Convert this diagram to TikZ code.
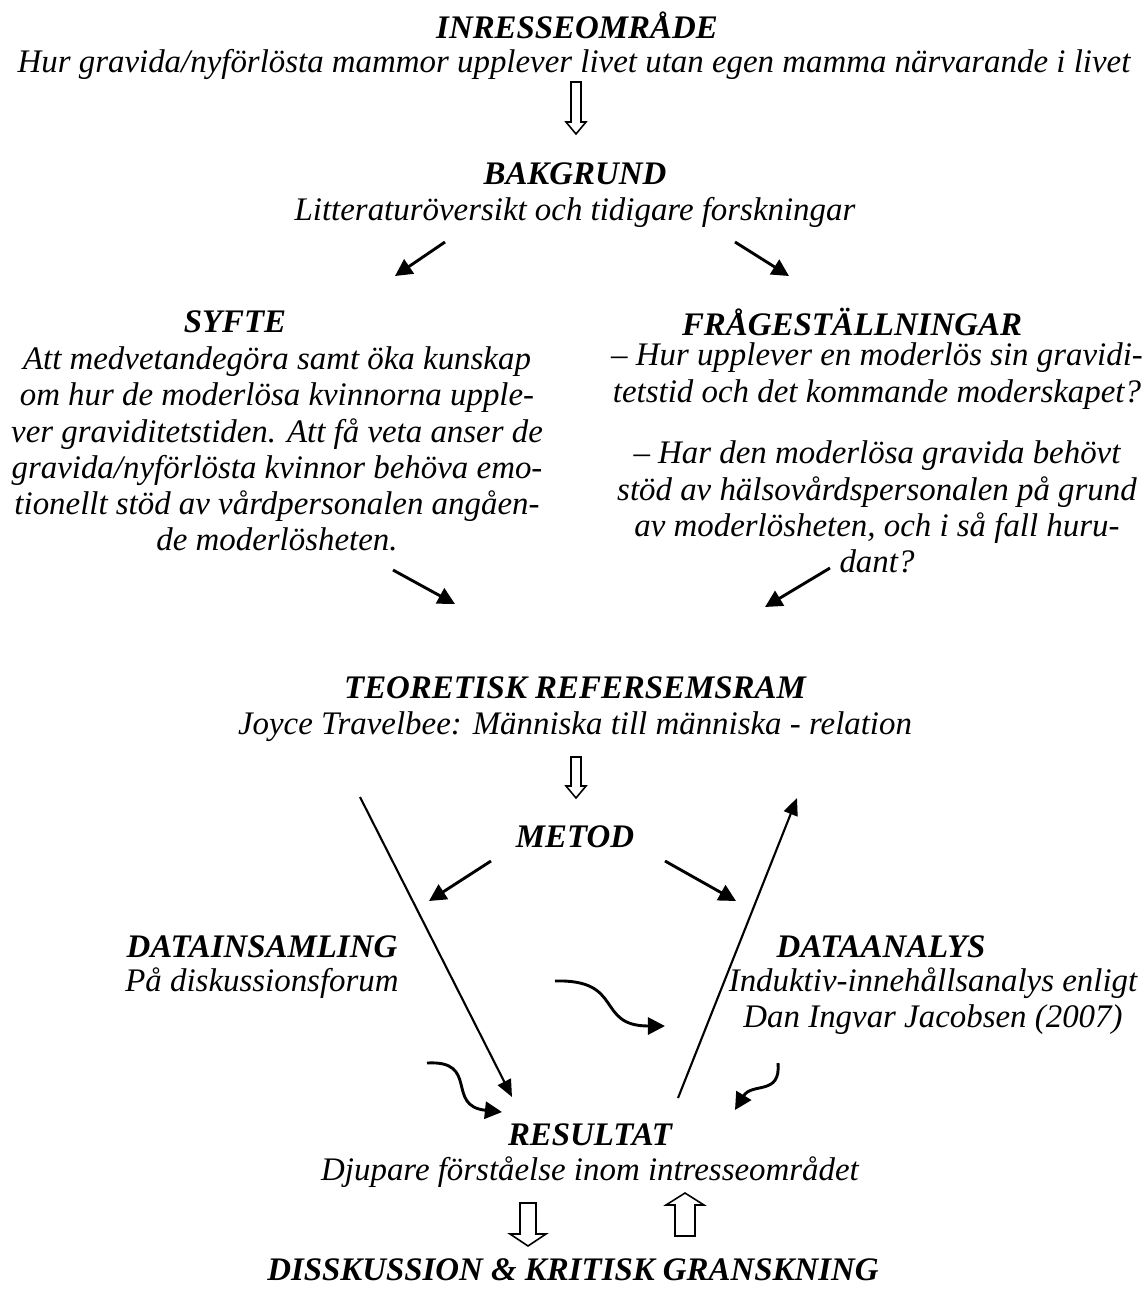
\documentclass[tikz,border=0pt]{standalone}
\usepackage{fontspec}
\setmainfont{Liberation Serif}
\usetikzlibrary{calc,arrows.meta}

\tikzset{
  rubrik/.style={font=\bfseries\itshape\fontsize{12.5}{13.8}\selectfont, inner sep=0pt},
  brodtext/.style={font=\itshape\fontsize{12.5}{13.8}\selectfont, align=center, inner sep=0pt},
  pil/.style={line width=1.1pt, -{Triangle[length=6.5pt,width=6.5pt]}},
  langpil/.style={line width=0.8pt, -{Triangle[length=6.5pt,width=5.5pt]}},
  ihalig/.style={line width=0.6pt, fill=white}
}
% ihålig pil: svans, spets, halv skaftbredd, halv huvudbredd, huvudlängd
\newcommand{\ihalpil}[5]{%
  \draw[ihalig] ($(#1)+(-#3,0)$) -- ($(#1)+(#3,0)$) -- ($(#2)+(#3,#5)$) -- ($(#2)+(#4,#5)$)
    -- (#2) -- ($(#2)+(-#4,#5)$) -- ($(#2)+(-#3,#5)$) -- cycle;}

\begin{document}
\begin{tikzpicture}[x=0.38pt,y=-0.38pt]
        \useasboundingbox (0,0) rectangle (1146,1296);
        % Intresseområde
        \node[rubrik] (intresse) at (577,25) {INRESSEOMRÅDE};
        \node[brodtext] (intressetext) at (574,64) {Hur gravida/nyförlösta mammor upplever livet utan egen mamma närvarande i livet};
        \coordinate (p1a) at (576,82);
        \coordinate (p1b) at (576,134);
        \ihalpil{p1a}{p1b}{5}{10}{-12}
        % Bakgrund
        \node[rubrik] (bakgrund) at (575,174) {BAKGRUND};
        \node[brodtext] (bakgrundtext) at (575,212) {Litteraturöversikt och tidigare forskningar};
        \coordinate (b1) at (445,242);
        \coordinate (b2) at (395,276);
        \coordinate (b3) at (735,242);
        \coordinate (b4) at (789,276);
        \draw[pil] (b1) -- (b2);
        \draw[pil] (b3) -- (b4);
        % Syfte
        \node[rubrik] (syfte) at (235,322) {SYFTE};
        \node[brodtext] (syftetext) at (277,449) {Att medvetandegöra samt öka kunskap\\
          om hur de moderlösa kvinnorna upple-\\
          ver graviditetstiden. Att få veta anser de\\
          gravida/nyförlösta kvinnor behöva emo-\\
          tionellt stöd av vårdpersonalen angåen-\\
          de moderlösheten.};
        % Frågeställningar
        \node[rubrik] (fragor) at (852,322) {FRÅGESTÄLLNINGAR};
        \node[brodtext] (fraga1) at (877,376) {– Hur upplever en moderlös sin gravidi-\\
          tetstid och det kommande moderskapet?};
        \node[brodtext] (fraga2) at (877,507) {– Har den moderlösa gravida behövt\\
          stöd av hälsovårdspersonalen på grund\\
          av moderlösheten, och i så fall huru-\\
          dant?};
        \coordinate (s1) at (393,570);
        \coordinate (s2) at (455,604);
        \coordinate (f1) at (830,568);
        \coordinate (f2) at (765,607);
        \draw[pil] (s1) -- (s2);
        \draw[pil] (f1) -- (f2);
        % Teoretisk referensram
        \node[rubrik] (teori) at (575,688) {TEORETISK REFERSEMSRAM};
        \node[brodtext] (teoritext) at (575,727) {Joyce Travelbee: Människa till människa - relation};
        \coordinate (p2a) at (576,757);
        \coordinate (p2b) at (576,798);
        \ihalpil{p2a}{p2b}{5}{10}{-12}
        % Metod
        \node[rubrik] (metod) at (575,837) {METOD};
        \coordinate (m1) at (491,861);
        \coordinate (m2) at (429,901);
        \coordinate (m3) at (665,861);
        \coordinate (m4) at (736,901);
        \draw[pil] (m1) -- (m2);
        \draw[pil] (m3) -- (m4);
        % Datainsamling och dataanalys
        \node[rubrik] (insamling) at (262,947) {DATAINSAMLING};
        \node[brodtext] (insamlingtext) at (262,983) {På diskussionsforum};
        \node[rubrik] (analys) at (881,947) {DATAANALYS};
        \node[brodtext] (analystext) at (933,1001) {Induktiv-innehållsanalys enligt\\
          Dan Ingvar Jacobsen (2007)};
        % Långa pilar
        \coordinate (l1a) at (360,797);
        \coordinate (l1b) at (512,1097);
        \coordinate (l2a) at (678,1098);
        \coordinate (l2b) at (797,798);
        \draw[langpil] (l1a) -- (l1b);
        \draw[langpil] (l2a) -- (l2b);
        % Böjda pilar
        \coordinate (k1a) at (555,981);
        \coordinate (k1b) at (665,1026);
        \draw[pil] (k1a) .. controls (625,979) and (595,1026) .. (k1b);
        \coordinate (k2a) at (427,1063);
        \coordinate (k2b) at (502,1112);
        \draw[pil] (k2a) .. controls (480,1060) and (445,1106) .. (k2b);
        \coordinate (k3a) at (778,1063);
        \coordinate (k3b) at (735,1110);
        \draw[pil] (k3a) .. controls (781,1096) and (752,1082) .. (k3b);
        % Resultat
        \node[rubrik] (resultat) at (590,1135) {RESULTAT};
        \node[brodtext] (resultattext) at (590,1172) {Djupare förståelse inom intresseområdet};
        \coordinate (p3a) at (528,1203);
        \coordinate (p3b) at (528,1246);
        \ihalpil{p3a}{p3b}{8}{18}{-12}
        \coordinate (p4a) at (685,1236);
        \coordinate (p4b) at (685,1193);
        \ihalpil{p4a}{p4b}{10}{19}{12}
        % Diskussion
        \node[rubrik] (diskussion) at (573,1270) {DISSKUSSION \& KRITISK GRANSKNING};
    \end{tikzpicture}
\end{document}
